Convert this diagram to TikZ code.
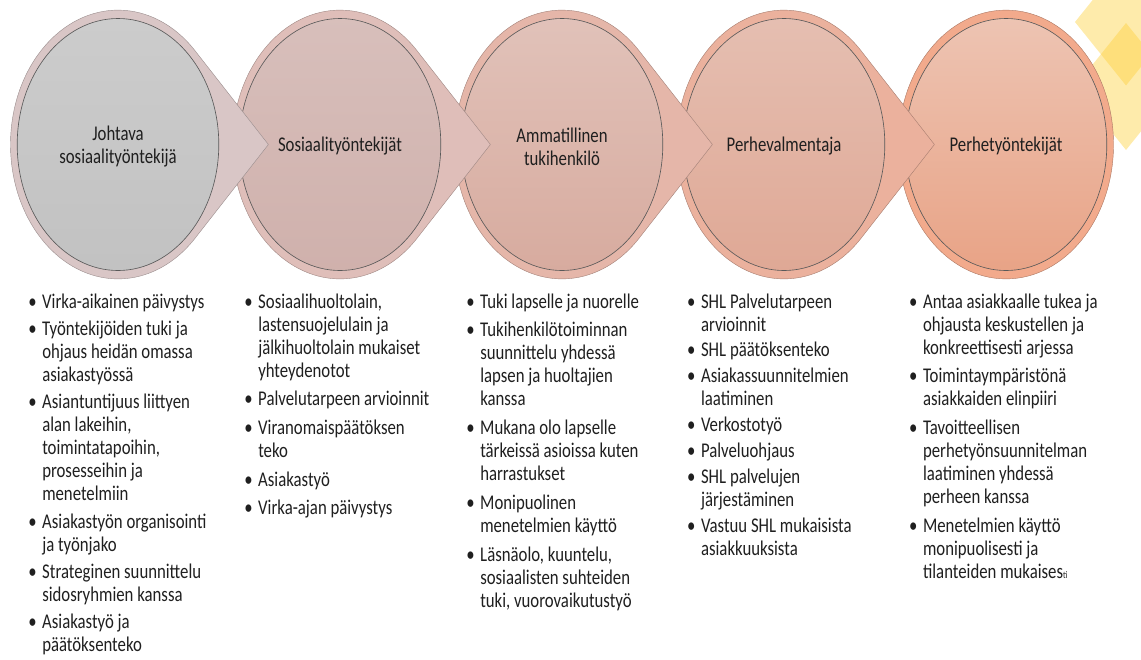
\documentclass[tikz,border=0pt]{standalone}
\usepackage{fontspec}
\setmainfont{Carlito}[FakeStretch=0.8]
\usepackage{tikz}
\usetikzlibrary{calc}
\definecolor{ringA}{HTML}{D9C6C6}
\definecolor{ringB}{HTML}{DFBEB9}
\definecolor{ringC}{HTML}{E5B6A9}
\definecolor{ringD}{HTML}{EBB19D}
\definecolor{ringE}{HTML}{F2AA8C}
\definecolor{tileyellow}{HTML}{FDD03C}
\tikzset{ring/.style={draw=#1!72!black,line width=0.3pt,fill=#1}}
\tikzset{core/.style={draw=black!65,line width=0.45pt}}
\tikzset{head/.style={align=center,text=black!88,font=\fontsize{14.9}{16.4}\selectfont}}
\tikzset{tasks/.style={anchor=base west,inner sep=0pt,text=black!88,font=\fontsize{14.9}{16.4}\selectfont}}
\tikzset{tile/.style={fill=tileyellow,fill opacity=0.43}}

\begin{document}
\begin{tikzpicture}
\useasboundingbox (0,0) rectangle (28.525,-16.475);
\clip (0,0) rectangle (28.525,-16.475);

\coordinate (c1) at (2.95,-3.6125);
\coordinate (c2) at (8.5,-3.6125);
\coordinate (c3) at (14.05,-3.6125);
\coordinate (c4) at (19.6,-3.6125);
\coordinate (c5) at (25.15,-3.6125);

% corner tiles
\fill[tile] (26.875,-0.55) -- (28.15,1.0375) -- (29.425,-0.55) -- (28.15,-2.1375) -- cycle;
\fill[tile] (26.875,-2.1625) -- (28.15,-0.575) -- (29.425,-2.1625) -- (28.15,-3.75) -- cycle;

% bubbles, right to left
\filldraw[ring=ringE] (c5) ellipse [x radius=2.688,y radius=3.36];
\shadedraw[core,top color=ringE!60!white!96!black,bottom color=ringE!96!black] (c5) ellipse [x radius=2.52,y radius=3.15];

\filldraw[ring=ringD] ($(c4)+(3.76,0)$) -- ++(-1.8384,2.3495) arc[start angle=44.37,end angle=315.63,x radius=2.688,y radius=3.36] -- cycle;
\shadedraw[core,top color=ringD!70!white!95!black,bottom color=ringD!95!black] (c4) ellipse [x radius=2.52,y radius=3.15];

\filldraw[ring=ringC] ($(c3)+(3.76,0)$) -- ++(-1.8384,2.3495) arc[start angle=44.37,end angle=315.63,x radius=2.688,y radius=3.36] -- cycle;
\shadedraw[core,top color=ringC!70!white!95!black,bottom color=ringC!94!black] (c3) ellipse [x radius=2.52,y radius=3.15];

\filldraw[ring=ringB] ($(c2)+(3.76,0)$) -- ++(-1.8384,2.3495) arc[start angle=44.37,end angle=315.63,x radius=2.688,y radius=3.36] -- cycle;
\shadedraw[core,top color=ringB!80!white!94!black,bottom color=ringB!93!black] (c2) ellipse [x radius=2.52,y radius=3.15];

\filldraw[ring=ringA] ($(c1)+(3.76,0)$) -- ++(-1.8384,2.3495) arc[start angle=44.37,end angle=315.63,x radius=2.688,y radius=3.36] -- cycle;
\shadedraw[core,top color=black!20,bottom color=black!24] (c1) ellipse [x radius=2.52,y radius=3.15];

\node[head] (lead) at ($(c1)+(0,-0.05)$) {Johtava\\sosiaalityöntekijä};
\node[head] (social) at ($(c2)+(0,-0.05)$) {Sosiaalityöntekijät};
\node[head] (mentor) at ($(c3)+(0,-0.05)$) {Ammatillinen\\tukihenkilö};
\node[head] (coach) at ($(c4)+(0,-0.05)$) {Perhevalmentaja};
\node[head] (family) at ($(c5)+(0,-0.05)$) {Perhetyöntekijät};

% task lists
\node[tasks] (leadtasks) at (0.70,-7.7) {\begin{tabular}[t]{@{}l@{\hspace{4pt}}l@{}}
• & Virka-aikainen päivystys\\[3pt]
• & Työntekijöiden tuki ja\\ & ohjaus heidän omassa\\ & asiakastyössä\\[3pt]
• & Asiantuntijuus liittyen\\ & alan lakeihin,\\ & toimintatapoihin,\\ & prosesseihin ja\\ & menetelmiin\\[3pt]
• & Asiakastyön organisointi\\ & ja työnjako\\[3pt]
• & Strateginen suunnittelu\\ & sidosryhmien kanssa\\[3pt]
• & Asiakastyö ja\\ & päätöksenteko
\end{tabular}};

\node[tasks] (socialtasks) at (6.10,-7.7) {\begin{tabular}[t]{@{}l@{\hspace{4pt}}l@{}}
• & Sosiaalihuoltolain,\\ & lastensuojelulain ja\\ & jälkihuoltolain mukaiset\\ & yhteydenotot\\[4pt]
• & Palvelutarpeen arvioinnit\\[4pt]
• & Viranomaispäätöksen\\ & teko\\[4pt]
• & Asiakastyö\\[4pt]
• & Virka-ajan päivystys
\end{tabular}};

\node[tasks] (mentortasks) at (11.65,-7.7) {\begin{tabular}[t]{@{}l@{\hspace{4pt}}l@{}}
• & Tuki lapselle ja nuorelle\\[4pt]
• & Tukihenkilötoiminnan\\ & suunnittelu yhdessä\\ & lapsen ja huoltajien\\ & kanssa\\[4pt]
• & Mukana olo lapselle\\ & tärkeissä asioissa kuten\\ & harrastukset\\[4pt]
• & Monipuolinen\\ & menetelmien käyttö\\[4pt]
• & Läsnäolo, kuuntelu,\\ & sosiaalisten suhteiden\\ & tuki, vuorovaikutustyö
\end{tabular}};

\node[tasks] (coachtasks) at (17.17,-7.7) {\begin{tabular}[t]{@{}l@{\hspace{4pt}}l@{}}
• & SHL Palvelutarpeen\\ & arvioinnit\\[2pt]
• & SHL päätöksenteko\\[2pt]
• & Asiakassuunnitelmien\\ & laatiminen\\[2pt]
• & Verkostotyö\\[2pt]
• & Palveluohjaus\\[2pt]
• & SHL palvelujen\\ & järjestäminen\\[2pt]
• & Vastuu SHL mukaisista\\ & asiakkuuksista
\end{tabular}};

\node[tasks] (familytasks) at (22.72,-7.7) {\begin{tabular}[t]{@{}l@{\hspace{4pt}}l@{}}
• & Antaa asiakkaalle tukea ja\\ & ohjausta keskustellen ja\\ & konkreettisesti arjessa\\[4pt]
• & Toimintaympäristönä\\ & asiakkaiden elinpiiri\\[4pt]
• & Tavoitteellisen\\ & perhetyönsuunnitelman\\ & laatiminen yhdessä\\ & perheen kanssa\\[4pt]
• & Menetelmien käyttö\\ & monipuolisesti ja\\ & tilanteiden mukaises{\fontsize{7}{8}\selectfont ti}
\end{tabular}};

\end{tikzpicture}
\end{document}
